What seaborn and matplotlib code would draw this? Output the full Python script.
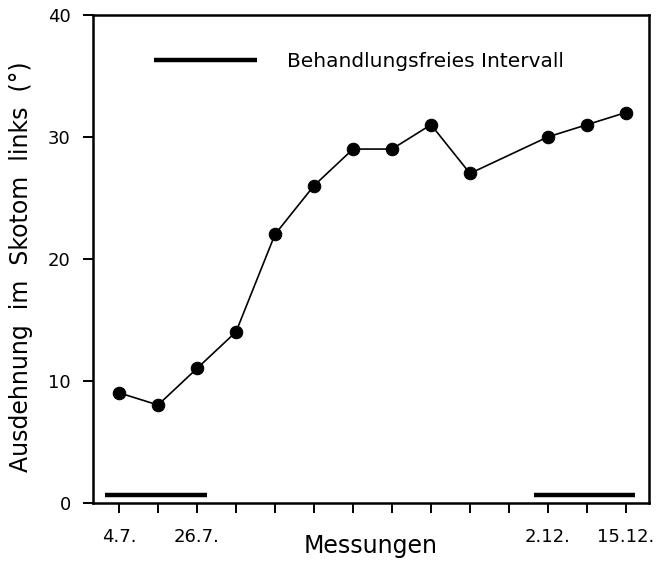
import matplotlib
matplotlib.use('Agg')
import matplotlib.pyplot as plt
import seaborn as sns
import pandas as pd

# Messungen (index 10 was not measured)
MEAS_POS = [0, 1, 2, 3, 4, 5, 6, 7, 8, 9, 11, 12, 13]
EXTENT = [9, 8, 11, 14, 22, 26, 29, 29, 31, 27, 30, 31, 32]

TICK_POS = list(range(14))
TICK_LABELS = ['4.7.', '', '26.7.', '', '', '', '', '', '', '', '', '2.12.', '', '15.12.']

# treatment-free intervals (in measurement units)
FREE_START = [-0.36, 10.63]
FREE_END = [2.26, 13.24]
FREE_LEVEL = [0.65, 0.65]

YTICKS = [0, 10, 20, 30, 40]


def make_plot(out_file):
    sns.set_style('ticks')
    plt.rcParams['font.family'] = ['DejaVu Sans']
    plt.rcParams['text.color'] = 'black'
    plt.rcParams['axes.labelcolor'] = 'black'

    fig = plt.figure(figsize=(6.62, 5.63), dpi=100)
    ax = fig.add_axes([93 / 662, 60.5 / 563, 556 / 662, 487.5 / 563])

    df = pd.DataFrame({'pos': MEAS_POS, 'extent': EXTENT})

    # Data line with markers
    sns.lineplot(data=df, x='pos', y='extent', ax=ax, color='black',
                 linewidth=1.2, marker='o', markersize=9,
                 markeredgecolor='black', markerfacecolor='black')

    # Treatment-free intervals
    ax.hlines(FREE_LEVEL, FREE_START, FREE_END, colors='black',
              linewidth=3.2, label='Behandlungsfreies Intervall')

    ax.legend(loc='upper left', bbox_to_anchor=(0.11, 0.925),
              frameon=False, borderpad=0, borderaxespad=0,
              handlelength=5.1, handletextpad=1.5, fontsize=14.5)

    ax.set_xlim(-0.667, 13.59)
    ax.set_ylim(0, 40)
    ax.set_xticks(TICK_POS)
    ax.set_xticklabels(TICK_LABELS)
    ax.set_yticks(YTICKS)

    ax.tick_params(axis='both', direction='out', length=7, width=1.4,
                   color='black', labelsize=13, labelcolor='black')
    ax.tick_params(axis='x', pad=11)
    ax.tick_params(axis='y', pad=9)

    for s in ax.spines.values():
        s.set_visible(True)
        s.set_linewidth(1.8)
        s.set_color('black')

    ax.set_xlabel('Messungen', fontsize=17, color='black')
    ax.set_ylabel('Ausdehnung  im  Skotom  links  (°)', fontsize=17,
                  color='black')
    ax.xaxis.set_label_coords(0.5, -0.064)
    ax.yaxis.set_label_coords(-0.108, 0.483)

    fig.savefig(out_file, dpi=100, facecolor='white')
    plt.close(fig)


if __name__ == '__main__':
    make_plot('out.png')
